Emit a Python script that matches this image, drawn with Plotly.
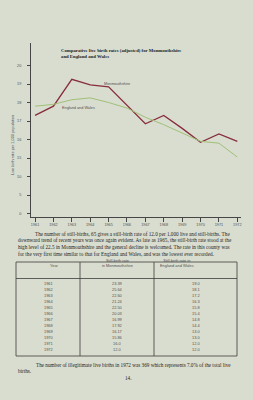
import plotly.graph_objects as go

W, H = 253, 400

years = [1961, 1962, 1963, 1964, 1965, 1966, 1967, 1968, 1969, 1970, 1971, 1972]
monmouthshire = [17.3, 17.8, 19.25, 18.95, 18.85, 17.85, 16.85, 17.3, 16.6, 15.85, 16.3, 15.9]
england_wales = [17.8, 17.9, 18.15, 18.25, 18.0, 17.7, 17.2, 16.8, 16.35, 15.9, 15.8, 15.05]

y_tick_values = [0, 5, 10, 15, 16, 17, 18, 19, 20]

table_years = ["1961", "1962", "1963", "1964", "1965", "1966", "1967", "1968", "1969", "1970", "1971", "1972"]
stillbirth_mon = ["23.39", "25.64", "22.60", "21.24", "22.50", "20.03", "16.99", "17.92", "16.17", "15.86", "16.0", "12.0"]
stillbirth_ew = ["19.0", "18.1", "17.2", "16.3", "15.8", "15.4", "14.8", "14.4", "13.0", "13.0", "12.0", "12.0"]

paragraph = [
    "The number of still-births, 65 gives a still-birth rate of 12.0 per 1,000 live and still-births. The",
    "downward trend of recent years was once again evident. As late as 1965, the still-birth rate stood at the",
    "high level of 22.5 in Monmouthshire and the general decline is welcomed. The rate in this county was",
    "for the very first time similar to that for England and Wales, and was the lowest ever recorded.",
]
footer = [
    "The number of illegitimate live births in 1972 was 369 which represents 7.0% of the total live",
    "births.",
]

BG = "rgb(217,221,207)"
INK = "rgb(30,30,30)"
GREY = "rgb(80,80,80)"


def broken(v):
    # broken scale of the printed axis: 0-15 compressed (5 per step), then 1 per step
    return v / 5.0 if v <= 15 else 3 + (v - 15)


def px(x):
    return x / W


def py(y):
    return 1 - y / H


fig = go.Figure()
fig.add_trace(go.Scatter(x=years, y=[broken(v) for v in monmouthshire], mode="lines",
                         line=dict(color="rgb(135,45,60)", width=1.3), name="Monmouthshire",
                         showlegend=False))
fig.add_trace(go.Scatter(x=years, y=[broken(v) for v in england_wales], mode="lines",
                         line=dict(color="rgb(160,192,120)", width=1.0), name="England and Wales",
                         showlegend=False))

annotations = []
# chart title
annotations.append(dict(x=px(59), y=py(51), xref="paper", yref="paper", xanchor="left", yanchor="middle",
                        text="<b>Comparative live birth rates (adjusted) for Monmouthshire</b>",
                        showarrow=False, font=dict(family="Liberation Serif", size=4.75, color=INK)))
annotations.append(dict(x=px(59), y=py(57), xref="paper", yref="paper", xanchor="left", yanchor="middle",
                        text="<b>and England and Wales</b>",
                        showarrow=False, font=dict(family="Liberation Serif", size=4.75, color=INK)))
# series labels
annotations.append(dict(x=px(102), y=py(83.5), xref="paper", yref="paper", xanchor="left", yanchor="middle",
                        text="Monmouthshire", showarrow=False,
                        font=dict(family="Liberation Sans", size=3.8, color=GREY)))
annotations.append(dict(x=px(60), y=py(107.5), xref="paper", yref="paper", xanchor="left", yanchor="middle",
                        text="England and Wales", showarrow=False,
                        font=dict(family="Liberation Sans", size=3.8, color=GREY)))
# y axis title
annotations.append(dict(x=px(12), y=py(145), xref="paper", yref="paper", xanchor="center", yanchor="middle",
                        text="Live birth rate per 1,000 population", textangle=-90, showarrow=False,
                        font=dict(family="Liberation Sans", size=3.9, color=GREY)))

# paragraph
para_y = [234, 240.5, 247, 253.5]
for i, line in enumerate(paragraph):
    annotations.append(dict(x=px(33 if i == 0 else 16), y=py(para_y[i]), xref="paper", yref="paper",
                            xanchor="left", yanchor="middle", text=line, showarrow=False,
                            font=dict(family="Liberation Serif", size=5.2, color=INK)))

# table
col_x = [48, 117, 196]
annotations.append(dict(x=px(col_x[0]), y=py(269.5), xref="paper", yref="paper", text="Year",
                        showarrow=False, font=dict(family="Liberation Sans", size=3.9, color=GREY)))
annotations.append(dict(x=px(col_x[1]), y=py(269.5), xref="paper", yref="paper",
                        text="Still-birth rate<br>in Monmouthshire", showarrow=False,
                        font=dict(family="Liberation Sans", size=3.9, color=GREY)))
annotations.append(dict(x=px(col_x[2]), y=py(269.5), xref="paper", yref="paper",
                        text="Still-birth rate in<br>England and Wales", showarrow=False,
                        font=dict(family="Liberation Sans", size=3.9, color=GREY)))
for i in range(len(table_years)):
    yy = py(283 + i * 6.09)
    for cx, val in zip(col_x, (table_years[i], stillbirth_mon[i], stillbirth_ew[i])):
        annotations.append(dict(x=px(cx), y=yy, xref="paper", yref="paper", text=val, showarrow=False,
                                xanchor="center", yanchor="middle",
                                font=dict(family="Liberation Sans", size=3.9, color=GREY)))

# footer
annotations.append(dict(x=px(34), y=py(365), xref="paper", yref="paper", xanchor="left", yanchor="middle",
                        text=footer[0], showarrow=False,
                        font=dict(family="Liberation Serif", size=5.2, color=INK)))
annotations.append(dict(x=px(16), y=py(370.5), xref="paper", yref="paper", xanchor="left", yanchor="middle",
                        text=footer[1], showarrow=False,
                        font=dict(family="Liberation Serif", size=5.2, color=INK)))
annotations.append(dict(x=px(128), y=py(378), xref="paper", yref="paper", xanchor="center", yanchor="middle",
                        text="14.", showarrow=False,
                        font=dict(family="Liberation Serif", size=5.2, color=INK)))

shapes = []
line_style = dict(color="rgb(60,60,60)", width=0.8)
# table frame
for (x0, y0, x1, y1) in [(16, 262, 237, 262), (16, 278.5, 237, 278.5), (16, 356, 237, 356),
                         (16, 262, 16, 356), (237, 262, 237, 356), (80, 262, 80, 356), (154, 262, 154, 356)]:
    shapes.append(dict(type="line", xref="paper", yref="paper", x0=px(x0), y0=py(y0), x1=px(x1), y1=py(y1),
                       line=line_style))

fig.update_layout(
    width=W, height=H, margin=dict(l=0, r=0, t=0, b=0),
    paper_bgcolor=BG, plot_bgcolor=BG,
    showlegend=False,
    annotations=annotations, shapes=shapes,
    xaxis=dict(domain=[px(31), px(241)], range=[1960.78, 1972.2], tickmode="array", tickvals=years,
               ticktext=[str(y) for y in years], ticks="outside", ticklen=4, tickwidth=0.8,
               tickcolor="rgb(70,70,70)", showline=True, linecolor="rgb(70,70,70)", linewidth=0.8,
               showgrid=False, zeroline=False,
               tickfont=dict(family="Liberation Sans", size=3.8, color=GREY)),
    yaxis=dict(domain=[py(217), py(43)], range=[(213.5 - 217) / 18.5, (213.5 - 43) / 18.5],
               tickmode="array", tickvals=[broken(v) for v in y_tick_values],
               ticktext=[str(v) for v in y_tick_values], ticks="outside", ticklen=3, tickwidth=0.8,
               tickcolor="rgb(70,70,70)", showline=True, linecolor="rgb(70,70,70)", linewidth=0.8,
               showgrid=False, zeroline=False, ticklabelstandoff=5,
               tickfont=dict(family="Liberation Sans", size=3.8, color=GREY)),
)

fig.write_html("out.html")
